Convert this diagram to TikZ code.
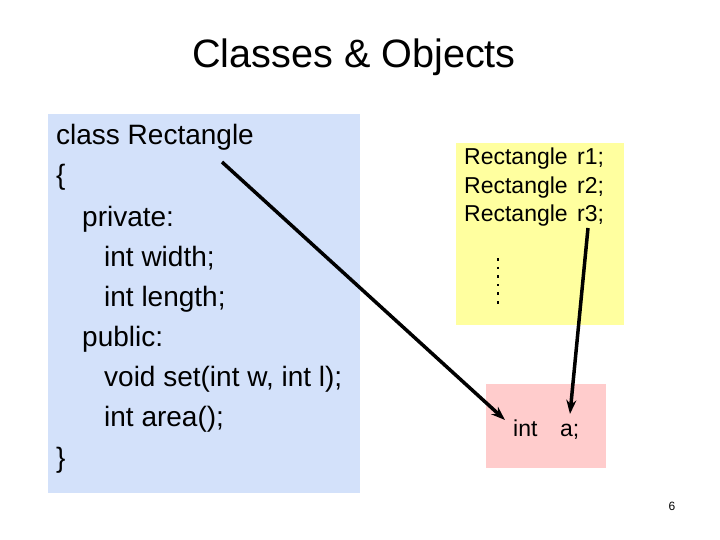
\documentclass[tikz,border=0pt]{standalone}
\usepackage{fontspec}
\setmainfont{Liberation Sans}
\usetikzlibrary{arrows.meta}
\definecolor{boxblue}{HTML}{D3E1FA}
\definecolor{boxyellow}{HTML}{FFFF9F}
\definecolor{boxpink}{HTML}{FFCCCC}
\tikzset{
  panel/.style={draw=none,inner sep=0pt,anchor=north west},
  code/.style={anchor=base west,inner sep=0pt,font=\fontsize{28}{40}\selectfont},
  obj/.style={anchor=base west,inner sep=0pt,font=\fontsize{23}{28}\selectfont},
  link/.style={line width=3.5pt,-{Stealth[length=14pt,width=10pt]}}
}
\begin{document}
\begin{tikzpicture}[x=1pt,y=-1pt]
\useasboundingbox (0,0) rectangle (720,540);
% panels
\node[panel,fill=boxblue,minimum width=312pt,minimum height=379pt] (cls) at (48,114) {};
\node[panel,fill=boxyellow,minimum width=168pt,minimum height=182pt] (objs) at (456,143) {};
\node[panel,fill=boxpink,minimum width=120pt,minimum height=84pt] (mem) at (486,384) {};
% title
\node[anchor=base,inner sep=0pt,font=\fontsize{39.6}{44}\selectfont] (title) at (354,68) {Classes \& Objects};
% class code
\node[code] (l1) at (56,145) {class Rectangle};
\node[code] (l2) at (56,185) {\{};
\node[code] (l3) at (82,226) {private:};
\node[code] (l4) at (104,266) {int width;};
\node[code] (l5) at (104,306) {int length;};
\node[code] (l6) at (82,346) {public:};
\node[code] (l7) at (104,386) {void set(int w, int l);};
\node[code] (l8) at (104,426) {int area();};
\node[code] (l9) at (56,467) {\}};
% objects
\node[obj] (o1) at (464,165) {Rectangle};
\node[obj] (o1b) at (577,165) {r1;};
\node[obj] (o2) at (464,194) {Rectangle};
\node[obj] (o2b) at (577,194) {r2;};
\node[obj] (o3) at (464,222) {Rectangle};
\node[obj] (o3b) at (577,222) {r3;};
\draw[line width=2.6pt,dash pattern=on 2.6pt off 6pt] (498,258) -- (498,304);
% int a
\node[obj] (ia) at (513,436) {int};
\node[obj] (ib) at (560,436) {a;};
% page number
\node[anchor=base,inner sep=0pt,font=\fontsize{12}{14}\selectfont] (pg) at (672,510) {6};
% arrows
\coordinate (a1s) at (222,162);
\coordinate (a1e) at (505,420);
\coordinate (a2s) at (588,228);
\coordinate (a2e) at (570,414);
\draw[link] (a1s) -- (a1e);
\draw[link] (a2s) -- (a2e);
\end{tikzpicture}
\end{document}
